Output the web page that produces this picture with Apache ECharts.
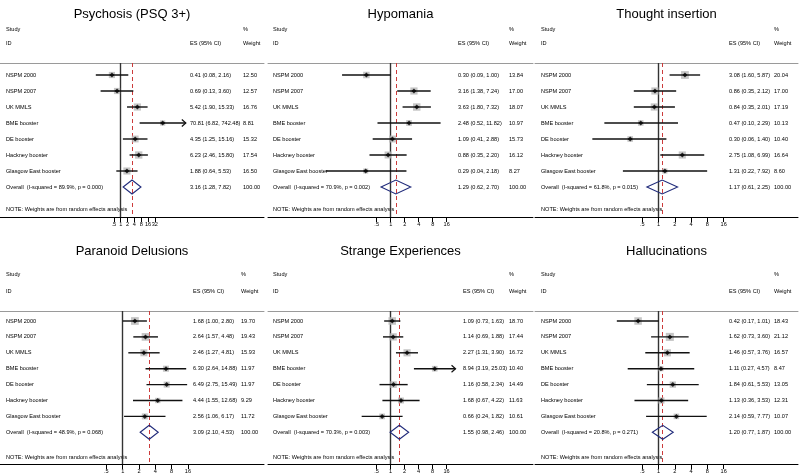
<!DOCTYPE html>
<html><head><meta charset="utf-8">
<script src="https://cdn.jsdelivr.net/npm/echarts@6/dist/echarts.min.js"></script>
<style>html,body{margin:0;padding:0;background:#fff}#c{width:800px;height:476px}</style>
</head><body><div id="c"></div>
<script>
// ---------------- DATA ----------------
const studies = ['NSPM 2000','NSPM 2007','UK MMLS','BME booster','DE booster','Hackney booster','Glasgow East booster'];
const tickValues = [0.5, 1, 2, 4, 8, 16, 32];
const tickLabels = ['.5', '1', '2', '4', '8', '16', '32'];
const noteText = 'NOTE: Weights are from random effects analysis';

const psyTitle = 'Psychosis (PSQ 3+)';
const psyES = [0.41, 0.69, 5.42, 70.81, 4.35, 6.23, 1.88];
const psyLo = [0.08, 0.13, 1.90, 6.82, 1.25, 2.46, 0.64];
const psyHi = [2.16, 3.60, 15.33, 742.48, 15.16, 15.80, 5.53];
const psyW  = [12.50, 12.57, 16.76, 8.81, 15.32, 17.54, 16.50];
const psyOverall = [3.16, 1.28, 7.82];
const psyHet = ['89.9%', '0.000'];

const hypTitle = 'Hypomania';
const hypES = [0.30, 3.16, 3.63, 2.48, 1.09, 0.88, 0.29];
const hypLo = [0.09, 1.38, 1.80, 0.52, 0.41, 0.35, 0.04];
const hypHi = [1.00, 7.24, 7.32, 11.82, 2.88, 2.20, 2.18];
const hypW  = [13.84, 17.00, 18.07, 10.97, 15.73, 16.12, 8.27];
const hypOverall = [1.29, 0.62, 2.70];
const hypHet = ['70.9%', '0.002'];

const thoTitle = 'Thought insertion';
const thoES = [3.08, 0.86, 0.84, 0.47, 0.30, 2.75, 1.31];
const thoLo = [1.60, 0.35, 0.35, 0.10, 0.06, 1.08, 0.22];
const thoHi = [5.87, 2.12, 2.01, 2.29, 1.40, 6.99, 7.92];
const thoW  = [20.04, 17.00, 17.19, 10.13, 10.40, 16.64, 8.60];
const thoOverall = [1.17, 0.61, 2.25];
const thoHet = ['61.8%', '0.015'];

const parTitle = 'Paranoid Delusions';
const parES = [1.68, 2.64, 2.46, 6.30, 6.49, 4.44, 2.56];
const parLo = [1.00, 1.57, 1.27, 2.64, 2.75, 1.55, 1.06];
const parHi = [2.80, 4.48, 4.81, 14.88, 15.49, 12.68, 6.17];
const parW  = [19.70, 19.43, 15.93, 11.97, 11.97, 9.29, 11.72];
const parOverall = [3.09, 2.10, 4.53];
const parHet = ['48.9%', '0.068'];

const strTitle = 'Strange Experiences';
const strES = [1.09, 1.14, 2.27, 8.94, 1.16, 1.68, 0.66];
const strLo = [0.73, 0.69, 1.31, 3.19, 0.58, 0.67, 0.24];
const strHi = [1.63, 1.88, 3.90, 25.03, 2.34, 4.22, 1.82];
const strW  = [18.70, 17.44, 16.72, 10.40, 14.49, 11.63, 10.61];
const strOverall = [1.55, 0.98, 2.46];
const strHet = ['70.3%', '0.003'];

const halTitle = 'Hallucinations';
const halES = [0.42, 1.62, 1.46, 1.11, 1.84, 1.13, 2.14];
const halLo = [0.17, 0.73, 0.57, 0.27, 0.61, 0.36, 0.59];
const halHi = [1.01, 3.60, 3.76, 4.57, 5.53, 3.53, 7.77];
const halW  = [18.43, 21.12, 16.57, 8.47, 13.05, 12.31, 10.07];
const halOverall = [1.20, 0.77, 1.87];
const halHet = ['20.8%', '0.271'];

// ---------------- LAYOUT ----------------
const panels = [
  {title: psyTitle, es: psyES, lo: psyLo, hi: psyHi, w: psyW, ov: psyOverall, het: psyHet},
  {title: hypTitle, es: hypES, lo: hypLo, hi: hypHi, w: hypW, ov: hypOverall, het: hypHet},
  {title: thoTitle, es: thoES, lo: thoLo, hi: thoHi, w: thoW, ov: thoOverall, het: thoHet},
  {title: parTitle, es: parES, lo: parLo, hi: parHi, w: parW, ov: parOverall, het: parHet},
  {title: strTitle, es: strES, lo: strLo, hi: strHi, w: strW, ov: strOverall, het: strHet},
  {title: halTitle, es: halES, lo: halLo, hi: halHi, w: halW, ov: halOverall, het: halHet}
];
const layout = [
  {L: 0,   R: 264, nul: 120.7, k: 6.83, nt: 7, sx: 6,   ex: 190, wx: 243, row: 0},
  {L: 268, R: 533, nul: 390.7, k: 14,   nt: 6, sx: 273, ex: 458, wx: 509, row: 0},
  {L: 535, R: 798, nul: 658.5, k: 16.3, nt: 6, sx: 541, ex: 729, wx: 774, row: 0},
  {L: 0,   R: 264, nul: 122.7, k: 16.3, nt: 6, sx: 6,   ex: 193, wx: 241, row: 1},
  {L: 268, R: 533, nul: 390.5, k: 14,   nt: 6, sx: 273, ex: 463, wx: 509, row: 1},
  {L: 535, R: 798, nul: 658.5, k: 16.3, nt: 6, sx: 541, ex: 729, wx: 774, row: 1}
];
const rowLayout = [
  {title: 15,  study: 29,  id: 43,  sep: 63,  row0: 75,  note: 209, axis: 217, dy: 16},
  {title: 252, study: 274, id: 291, sep: 311, row0: 321, note: 457, axis: 464, dy: 15.9}
];
const FONT = '"Liberation Sans", Arial, sans-serif';
const TXT = 5.6;
const fmt2 = v => v.toFixed(2);

const option = {animation: false, backgroundColor: '#fff', title: [], grid: [], xAxis: [], yAxis: [], series: [], graphic: []};

panels.forEach((p, g) => {
  const lp = layout[g], rl = rowLayout[lp.row];
  const xmin = (lp.L - lp.nul) / lp.k, xmax = (lp.R - lp.nul) / lp.k;
  const ymin = (rl.sep - rl.row0) / rl.dy, ymax = (rl.axis - rl.row0) / rl.dy;
  const noteV = (rl.note - rl.row0) / rl.dy;
  const nS = studies.length;

  option.title.push({text: p.title, left: (lp.L + lp.R) / 2, top: rl.title - 7, textAlign: 'center', padding: 0,
    textStyle: {fontFamily: FONT, fontSize: 13, fontWeight: 'normal', color: '#000'}});

  option.grid.push({left: lp.L, width: lp.R - lp.L, top: rl.sep, height: rl.axis - rl.sep});

  const ticks = tickValues.slice(0, lp.nt).map(Math.log2);
  const tickFmt = v => tickLabels[Math.round(v) + 1];
  option.xAxis.push({gridIndex: g, type: 'value', position: 'bottom', min: xmin, max: xmax,
    axisLine: {show: true, onZero: false, lineStyle: {color: '#000', width: 1}},
    axisTick: {show: true, customValues: ticks, length: 5, lineStyle: {color: '#000', width: 1}},
    axisLabel: {show: true, customValues: ticks, formatter: tickFmt, fontSize: TXT, fontFamily: FONT, color: '#000', margin: 4},
    splitLine: {show: false}});
  option.xAxis.push({gridIndex: g, type: 'value', position: 'top', min: xmin, max: xmax,
    axisLine: {show: true, onZero: false, lineStyle: {color: '#9a9a9a', width: 1}},
    axisTick: {show: false}, axisLabel: {show: false}, splitLine: {show: false}});

  const rowVals = [];
  for (let i = 0; i <= nS; i++) rowVals.push(i);
  const studyVals = rowVals.concat([noteV]);
  const studyTexts = studies.concat(['Overall  (I-squared = ' + p.het[0] + ', p = ' + p.het[1] + ')', noteText]);
  const esTexts = p.es.map((e, i) => fmt2(e) + ' (' + fmt2(p.lo[i]) + ', ' + fmt2(p.hi[i]) + ')')
    .concat([fmt2(p.ov[0]) + ' (' + fmt2(p.ov[1]) + ', ' + fmt2(p.ov[2]) + ')']);
  const wTexts = p.w.map(fmt2).concat(['100.00']);
  const pick = (vals, texts) => v => {
    let bi = 0;
    vals.forEach((x, i) => { if (Math.abs(x - v) < Math.abs(vals[bi] - v)) bi = i; });
    return texts[bi];
  };
  const ybase = {gridIndex: g, type: 'value', inverse: true, min: ymin, max: ymax, position: 'right',
    axisLine: {show: false, onZero: false}, axisTick: {show: false}, splitLine: {show: false}};
  const lab = (vals, texts) => ({customValues: vals, formatter: pick(vals, texts), fontSize: TXT, fontFamily: FONT, color: '#000', margin: 0, align: 'left'});
  option.yAxis.push(Object.assign({}, ybase, {offset: lp.sx - lp.R, axisLabel: lab(studyVals, studyTexts)}));
  option.yAxis.push(Object.assign({}, ybase, {offset: lp.ex - lp.R, axisLabel: lab(rowVals, esTexts)}));
  option.yAxis.push(Object.assign({}, ybase, {offset: lp.wx - lp.R, axisLabel: lab(rowVals, wTexts)}));

  const xi = 2 * g, yi = 3 * g;
  const maxTick = tickValues[lp.nt - 1];

  // weight boxes + reference lines
  option.series.push({type: 'scatter', xAxisIndex: xi, yAxisIndex: yi, z: 2, silent: true,
    symbol: 'rect', symbolSize: v => Math.sqrt(v[2]) * 1.75,
    itemStyle: {color: '#b8b8b8'},
    data: p.es.map((e, i) => [Math.log2(e), i, p.w[i]]),
    markLine: {silent: true, symbol: 'none', label: {show: false}, z: 1,
      data: [
        {xAxis: 0, lineStyle: {color: '#333', width: 1.4, type: 'solid'}},
        {xAxis: Math.log2(p.ov[0]), lineStyle: {color: '#cc3b3b', width: 1, type: [4, 3]}}
      ]}});

  // CI lines
  option.series.push({type: 'custom', xAxisIndex: xi, yAxisIndex: yi, z: 3, silent: true, clip: false,
    encode: {x: [0, 1], y: 2},
    data: p.es.map((e, i) => [Math.log2(p.lo[i]), Math.log2(p.hi[i]), i, p.hi[i] > maxTick ? 1 : 0]),
    renderItem: (params, api) => {
      const y = api.value(2);
      const a = api.coord([api.value(0), y]);
      const b = api.coord([api.value(1), y]);
      const ch = [{type: 'line', shape: {x1: a[0], y1: a[1], x2: b[0], y2: b[1]}, style: {stroke: '#111', lineWidth: 1.4}}];
      if (api.value(3)) {
        ch.push({type: 'polyline', shape: {points: [[b[0] - 4, b[1] - 3.5], [b[0], b[1]], [b[0] - 4, b[1] + 3.5]]},
          style: {stroke: '#111', fill: null, lineWidth: 1.2}});
      }
      return {type: 'group', children: ch};
    }});

  // point estimates
  option.series.push({type: 'scatter', xAxisIndex: xi, yAxisIndex: yi, z: 4, silent: true,
    symbol: 'diamond', symbolSize: 5, itemStyle: {color: '#000'},
    data: p.es.map((e, i) => [Math.log2(e), i])});

  // overall diamond
  option.series.push({type: 'custom', xAxisIndex: xi, yAxisIndex: yi, z: 3, silent: true, clip: false,
    encode: {x: [0, 1, 2], y: 3},
    data: [[Math.log2(p.ov[1]), Math.log2(p.ov[0]), Math.log2(p.ov[2]), nS]],
    renderItem: (params, api) => {
      const y = api.value(3);
      const l = api.coord([api.value(0), y]);
      const c = api.coord([api.value(1), y]);
      const r = api.coord([api.value(2), y]);
      const h = 7;
      return {type: 'polygon', shape: {points: [l, [c[0], c[1] - h], r, [c[0], c[1] + h]]},
        style: {stroke: '#1f2a7a', fill: null, lineWidth: 1.1}};
    }});

  // header texts
  const hdr = (t, x, y) => option.graphic.push({type: 'text', x: x, y: y, silent: true,
    style: {text: t, fontSize: TXT, fontFamily: FONT, fill: '#000', align: 'left', verticalAlign: 'middle'}});
  hdr('Study', lp.sx, rl.study);
  hdr('%', lp.wx, rl.study);
  hdr('ID', lp.sx, rl.id);
  hdr('ES (95% CI)', lp.ex, rl.id);
  hdr('Weight', lp.wx, rl.id);
});

const chart = echarts.init(document.getElementById('c'), null, {renderer: 'canvas'});
chart.setOption(option);
</script>
</body></html>
